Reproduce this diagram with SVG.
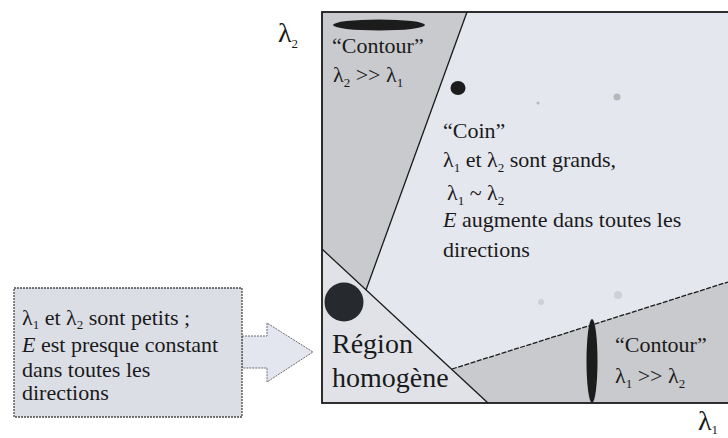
<svg xmlns="http://www.w3.org/2000/svg" width="728" height="438" viewBox="0 0 728 438">
<rect width="728" height="438" fill="#ffffff"/>

<g id="plot">
  <rect x="322" y="12" width="420" height="391" fill="#e5e7ee"/>
  <polygon id="contour-v-region" points="322,12 467,12 366,290 322,249" fill="#c9cacd"/>
  <polygon id="homogene-region" points="322,249 488,403 322,403" fill="#e0e2e8"/>
  <polygon id="contour-h-region" points="452,369 728,282 728,403 488,403" fill="#c9cacd"/>
</g>

<g id="connectors" stroke="#1a1a1a" stroke-width="1.3" fill="none">
  <line x1="467" y1="12" x2="366" y2="290"/>
  <line x1="322" y1="249" x2="488" y2="403"/>
  <line x1="452" y1="369" x2="728" y2="282" stroke-dasharray="5 1.5"/>
  <rect x="322" y="12" width="420" height="391" stroke-width="1.8"/>
</g>

<g id="smudges" fill="#9a9a9a">
  <circle cx="617" cy="97" r="3.5" opacity="0.6"/>
  <circle cx="538" cy="103" r="1.5" opacity="0.6"/>
  <circle cx="541" cy="302" r="3" opacity="0.3"/>
  <circle cx="618" cy="295" r="4" opacity="0.3"/>
</g>

<g id="node-contour-top">
  <ellipse cx="379" cy="25" rx="46" ry="5.5" fill="#1c1c1c"/>
  <text x="332" y="53" style="font-family:'Liberation Serif',serif;font-size:22px;fill:#1a1a1a">“Contour”</text>
  <text x="333" y="82" style="font-family:'Liberation Serif',serif;font-size:22px;fill:#1a1a1a">λ<tspan font-size="13" dy="5">2</tspan><tspan dy="-5"> &gt;&gt; λ</tspan><tspan font-size="13" dy="5">1</tspan></text>
</g>

<g id="node-coin">
  <ellipse cx="458" cy="88" rx="7.5" ry="7" fill="#1c1c1c"/>
  <text x="443" y="138" style="font-family:'Liberation Serif',serif;font-size:22px;fill:#1a1a1a">“Coin”</text>
  <text x="443" y="167" style="font-family:'Liberation Serif',serif;font-size:22px;fill:#1a1a1a">λ<tspan font-size="13" dy="5">1</tspan><tspan dy="-5"> et λ</tspan><tspan font-size="13" dy="5">2</tspan><tspan dy="-5"> sont grands,</tspan></text>
  <text x="447" y="200" style="font-family:'Liberation Serif',serif;font-size:22px;fill:#1a1a1a">λ<tspan font-size="13" dy="5">1</tspan><tspan dy="-5"> ~ λ</tspan><tspan font-size="13" dy="5">2</tspan></text>
  <text x="443" y="227" style="font-family:'Liberation Serif',serif;font-size:22px;fill:#1a1a1a"><tspan font-style="italic">E</tspan> augmente dans toutes les</text>
  <text x="443" y="257" style="font-family:'Liberation Serif',serif;font-size:22px;fill:#1a1a1a">directions</text>
</g>

<g id="node-homogene">
  <circle cx="344" cy="302" r="19.5" fill="#262a2e"/>
  <text x="332" y="353" style="font-family:'Liberation Serif',serif;font-size:28px;fill:#1a1a1a">Région</text>
  <text x="332" y="387" style="font-family:'Liberation Serif',serif;font-size:28px;fill:#1a1a1a">homogène</text>
</g>

<g id="node-contour-right">
  <ellipse cx="592" cy="361" rx="5.5" ry="42" fill="#1c1c1c"/>
  <text x="615" y="352" style="font-family:'Liberation Serif',serif;font-size:22px;fill:#1a1a1a">“Contour”</text>
  <text x="615" y="383" style="font-family:'Liberation Serif',serif;font-size:22px;fill:#1a1a1a">λ<tspan font-size="13" dy="5">1</tspan><tspan dy="-5"> &gt;&gt; λ</tspan><tspan font-size="13" dy="5">2</tspan></text>
</g>

<g id="axis-labels">
  <text x="278" y="42" style="font-family:'Liberation Serif',serif;font-size:28px;fill:#1a1a1a">λ<tspan font-size="13" dy="6">2</tspan></text>
  <text x="698" y="430" style="font-family:'Liberation Serif',serif;font-size:28px;fill:#1a1a1a">λ<tspan font-size="13" dy="4">1</tspan></text>
</g>

<g id="node-petits">
  <polygon points="242,336 267,336 267,323 313,352 267,382 267,368 242,368" fill="#e3e6ef" stroke="#6a6a6a" stroke-width="1" stroke-dasharray="2 1"/>
  <rect x="14" y="288" width="228" height="129" fill="#dcdee6" stroke="#4a4a4a" stroke-width="1.3" stroke-dasharray="2 1"/>
  <text x="22" y="325" style="font-family:'Liberation Serif',serif;font-size:22px;fill:#1a1a1a">λ<tspan font-size="13" dy="4">1</tspan><tspan dy="-4"> et λ</tspan><tspan font-size="13" dy="4">2</tspan><tspan dy="-4"> sont petits ;</tspan></text>
  <text x="22" y="352" style="font-family:'Liberation Serif',serif;font-size:22px;fill:#1a1a1a"><tspan font-style="italic">E</tspan> est presque constant</text>
  <text x="22" y="377" style="font-family:'Liberation Serif',serif;font-size:22px;fill:#1a1a1a">dans toutes les</text>
  <text x="22" y="400" style="font-family:'Liberation Serif',serif;font-size:22px;fill:#1a1a1a">directions</text>
</g>
</svg>
